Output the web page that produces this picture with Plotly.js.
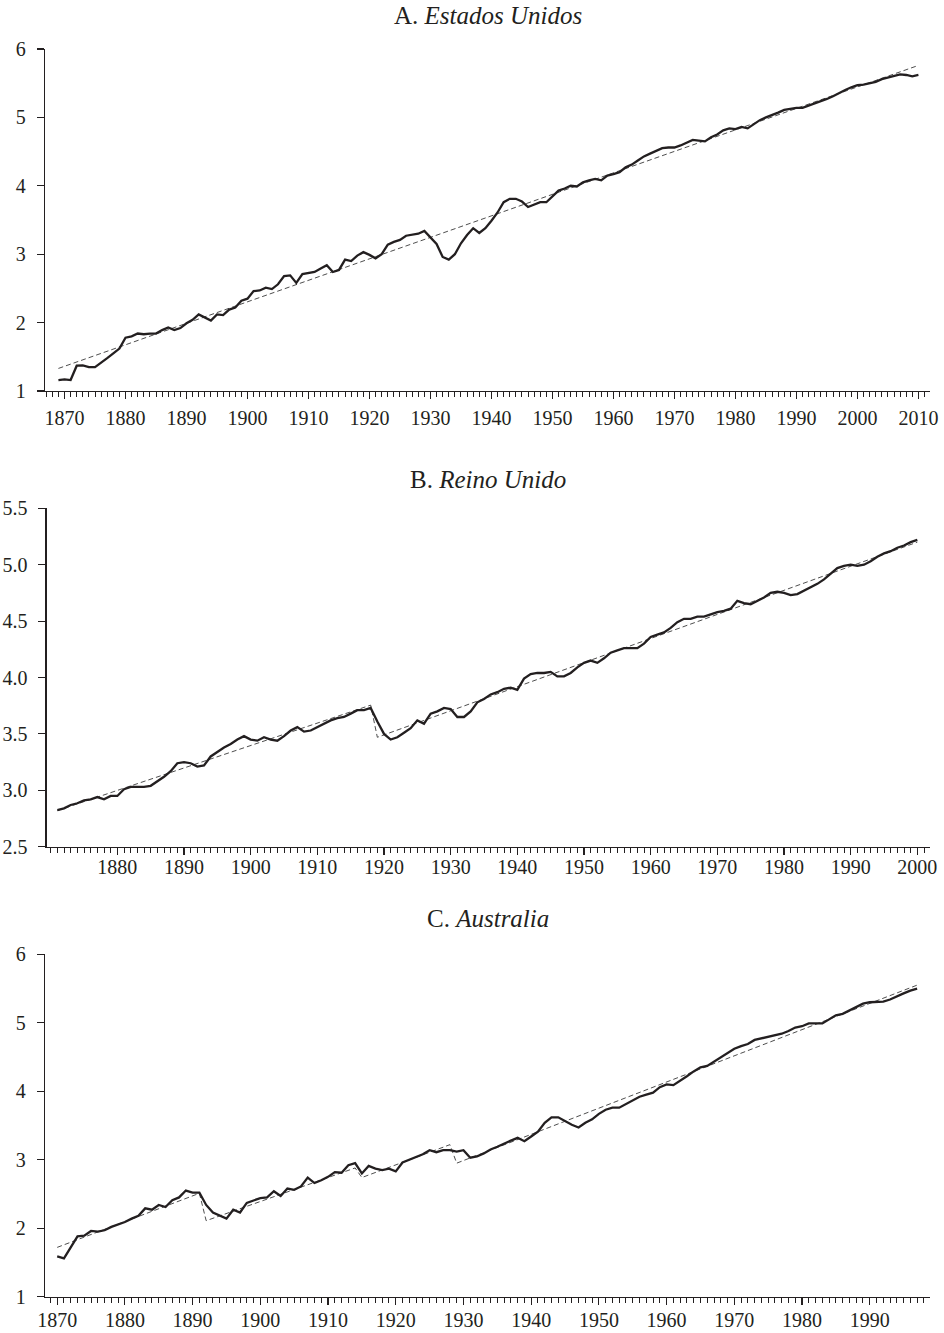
<!DOCTYPE html>
<html>
<head>
<meta charset="utf-8">
<script src="https://cdn.plot.ly/plotly-3.0.1.min.js"></script>
<style>html,body{margin:0;padding:0;background:#fff;}#chart{width:944px;height:1333px;}</style>
</head>
<body>
<div id="chart"></div>
<script>
// ---------- Data ----------
const panelTitles = ["A. <i>Estados Unidos</i>", "B. <i>Reino Unido</i>", "C. <i>Australia</i>"];

// Estados Unidos, 1869-2010
const usStartYear = 1869;
const usValues = [
  1.16,
  1.17,1.16,1.37,1.375,1.35,1.35,1.41,1.48,1.55,1.62,
  1.78,1.80,1.84,1.83,1.84,1.84,1.89,1.93,1.89,1.92,
  1.99,2.04,2.12,2.08,2.03,2.12,2.11,2.19,2.22,2.32,
  2.35,2.46,2.47,2.51,2.49,2.56,2.68,2.69,2.58,2.71,
  2.73,2.74,2.79,2.84,2.74,2.77,2.92,2.90,2.98,3.03,
  2.99,2.94,3.00,3.14,3.18,3.21,3.27,3.28,3.30,3.34,
  3.25,3.15,2.96,2.92,3.00,3.16,3.28,3.38,3.31,3.38,
  3.49,3.61,3.76,3.81,3.81,3.77,3.69,3.73,3.76,3.76,
  3.84,3.93,3.96,4.00,3.99,4.05,4.08,4.10,4.08,4.15,
  4.17,4.20,4.27,4.31,4.37,4.43,4.47,4.51,4.55,4.56,
  4.56,4.59,4.63,4.67,4.66,4.65,4.71,4.75,4.81,4.84,
  4.83,4.86,4.84,4.90,4.96,5.00,5.03,5.07,5.11,5.13,
  5.14,5.14,5.17,5.20,5.24,5.27,5.31,5.36,5.40,5.44,
  5.47,5.48,5.50,5.52,5.56,5.58,5.61,5.63,5.62,5.60,
  5.62
];
const usTrendYears = [1869, 2010];
const usTrendValues = [1.33, 5.76];

// Reino Unido, 1871-2000
const ukStartYear = 1871;
const ukValues = [
  2.825,2.84,2.87,2.885,2.91,2.92,2.94,2.92,2.95,
  2.95,3.01,3.03,3.03,3.03,3.04,3.08,3.12,3.17,3.24,
  3.25,3.24,3.21,3.22,3.30,3.34,3.38,3.41,3.45,3.48,
  3.45,3.44,3.47,3.45,3.44,3.48,3.53,3.56,3.52,3.53,
  3.56,3.59,3.62,3.64,3.65,3.68,3.71,3.71,3.73,3.61,
  3.50,3.45,3.47,3.51,3.55,3.62,3.59,3.68,3.70,3.73,
  3.72,3.65,3.65,3.70,3.78,3.81,3.85,3.87,3.90,3.91,
  3.89,3.99,4.03,4.04,4.04,4.05,4.01,4.01,4.04,4.09,
  4.13,4.15,4.13,4.17,4.22,4.24,4.26,4.26,4.26,4.30,
  4.36,4.38,4.40,4.44,4.49,4.52,4.52,4.54,4.54,4.56,
  4.58,4.59,4.61,4.68,4.66,4.65,4.68,4.71,4.75,4.76,
  4.75,4.73,4.74,4.77,4.80,4.83,4.87,4.92,4.97,4.99,
  5.00,4.99,5.00,5.03,5.07,5.10,5.12,5.15,5.17,5.20,
  5.22
];
const ukTrendYears = [1871, 1918, 1919, 2000];
const ukTrendValues = [2.82, 3.755, 3.47, 5.20];

// Australia, 1870-1997
const auStartYear = 1870;
const auValues = [
  1.59,1.56,1.72,1.88,1.89,1.96,1.95,1.97,2.02,2.05,
  2.09,2.14,2.18,2.29,2.27,2.34,2.31,2.41,2.45,2.55,
  2.52,2.52,2.34,2.23,2.19,2.14,2.27,2.23,2.37,2.40,
  2.44,2.45,2.54,2.47,2.58,2.56,2.61,2.74,2.66,2.70,
  2.75,2.82,2.81,2.92,2.95,2.80,2.91,2.87,2.85,2.87,
  2.83,2.96,3.00,3.03,3.08,3.14,3.11,3.14,3.14,3.12,
  3.14,3.03,3.05,3.09,3.15,3.19,3.24,3.28,3.32,3.27,
  3.34,3.41,3.54,3.62,3.62,3.56,3.51,3.47,3.54,3.59,
  3.67,3.73,3.76,3.76,3.81,3.86,3.92,3.95,3.98,4.06,
  4.10,4.09,4.15,4.22,4.29,4.35,4.37,4.43,4.49,4.56,
  4.62,4.66,4.69,4.75,4.77,4.80,4.82,4.84,4.88,4.93,
  4.95,4.99,4.99,4.99,5.05,5.11,5.13,5.18,5.24,5.28,
  5.30,5.30,5.31,5.34,5.39,5.43,5.47,5.50
];
const auTrendYears = [1870, 1891, 1892, 1914, 1915, 1928, 1929, 1997];
const auTrendValues = [1.72, 2.51, 2.11, 2.88, 2.74, 3.22, 2.95, 5.55];

// x tick labels
const usTickYears = [1870,1880,1890,1900,1910,1920,1930,1940,1950,1960,1970,1980,1990,2000,2010];
const ukTickYears = [1880,1890,1900,1910,1920,1930,1940,1950,1960,1970,1980,1990,2000];
const auTickYears = [1870,1880,1890,1900,1910,1920,1930,1940,1950,1960,1970,1980,1990];
const usYTicks = [1,2,3,4,5,6];
const ukYTicks = [2.5,3.0,3.5,4.0,4.5,5.0,5.5];
const auYTicks = [1,2,3,4,5,6];

// ---------- Build ----------
function yearsFrom(start, n){ const a=[]; for(let i=0;i<n;i++) a.push(start+i); return a; }

const INK = '#231f20';
const FONT = 'Liberation Serif, Times New Roman, serif';

function seriesTrace(x, y, ax){ return {x:x, y:y, xaxis:'x'+ax, yaxis:'y'+ax, type:'scatter', mode:'lines',
  line:{color:INK, width:2.3}, hoverinfo:'skip'}; }
function trendTrace(x, y, ax){ return {x:x, y:y, xaxis:'x'+ax, yaxis:'y'+ax, type:'scatter', mode:'lines',
  line:{color:'#3a3a3a', width:0.9, dash:'5px,3px'}, hoverinfo:'skip'}; }

const data = [
  trendTrace(usTrendYears, usTrendValues, ''),
  seriesTrace(yearsFrom(usStartYear, usValues.length), usValues, ''),
  trendTrace(ukTrendYears, ukTrendValues, '2'),
  seriesTrace(yearsFrom(ukStartYear, ukValues.length), ukValues, '2'),
  trendTrace(auTrendYears, auTrendValues, '3'),
  seriesTrace(yearsFrom(auStartYear, auValues.length), auValues, '3')
];

const H = 1333;
function dom(topPx, botPx){ return [1 - botPx/H, 1 - topPx/H]; }

function xAxis(range, tickYears, minorStart, domainX, anchor, standoff){
  return {range:range, domain:domainX, anchor:anchor, automargin:false,
    tickmode:'array', tickvals:tickYears, ticktext:tickYears.map(String),
    ticks:'outside', ticklen:7, tickwidth:1.1, tickcolor:INK,
    showline:true, linecolor:INK, linewidth:1.3, showgrid:false, zeroline:false,
    tickfont:{family:FONT, size:20, color:INK}, ticklabelstandoff:standoff,
    minor:{tickmode:'linear', tick0:minorStart, dtick:1, ticks:'outside', ticklen:4.5, tickwidth:1, tickcolor:INK, showgrid:false},
    fixedrange:true};
}
function yAxis(range, ticks, domainY, anchor, fmt){
  return {range:range, domain:domainY, anchor:anchor, automargin:false,
    tickmode:'array', tickvals:ticks, ticktext:ticks.map(v=>fmt? v.toFixed(1): String(v)),
    ticks:'outside', ticklen:7, tickwidth:1.1, tickcolor:INK,
    showline:true, linecolor:INK, linewidth:1.3, showgrid:false, zeroline:false,
    tickfont:{family:FONT, size:20, color:INK}, ticklabelstandoff:7, fixedrange:true};
}

const layout = {
  width:944, height:H,
  margin:{l:45, r:14, t:0, b:0, pad:0},
  paper_bgcolor:'#ffffff', plot_bgcolor:'#ffffff',
  showlegend:false,
  xaxis:  xAxis([1866.8, 2011.9], usTickYears, 1869, [0,1], 'y', 2),
  yaxis:  yAxis([1,6], usYTicks, dom(49,391), 'x', false),
  xaxis2: xAxis([1869.4, 2001.9], ukTickYears, 1870, [0.0019,1], 'y2', -5),
  yaxis2: yAxis([2.5,5.5], ukYTicks, dom(508.3,846.7), 'x2', true),
  xaxis3: xAxis([1868.2, 1998.9], auTickYears, 1869, [0,1], 'y3', -2),
  yaxis3: yAxis([1,6], auYTicks, dom(954.3,1296.7), 'x3', false),
  annotations: [
    {text:panelTitles[0], xref:'paper', yref:'paper', x:0.5, y:1-15.2/H, xanchor:'center', yanchor:'middle', showarrow:false, font:{family:FONT, size:25, color:INK}},
    {text:panelTitles[1], xref:'paper', yref:'paper', x:0.5, y:1-479.2/H, xanchor:'center', yanchor:'middle', showarrow:false, font:{family:FONT, size:25, color:INK}},
    {text:panelTitles[2], xref:'paper', yref:'paper', x:0.5, y:1-918.9/H, xanchor:'center', yanchor:'middle', showarrow:false, font:{family:FONT, size:25, color:INK}}
  ]
};

Plotly.newPlot('chart', data, layout, {staticPlot:true, displayModeBar:false});
</script>
</body>
</html>
